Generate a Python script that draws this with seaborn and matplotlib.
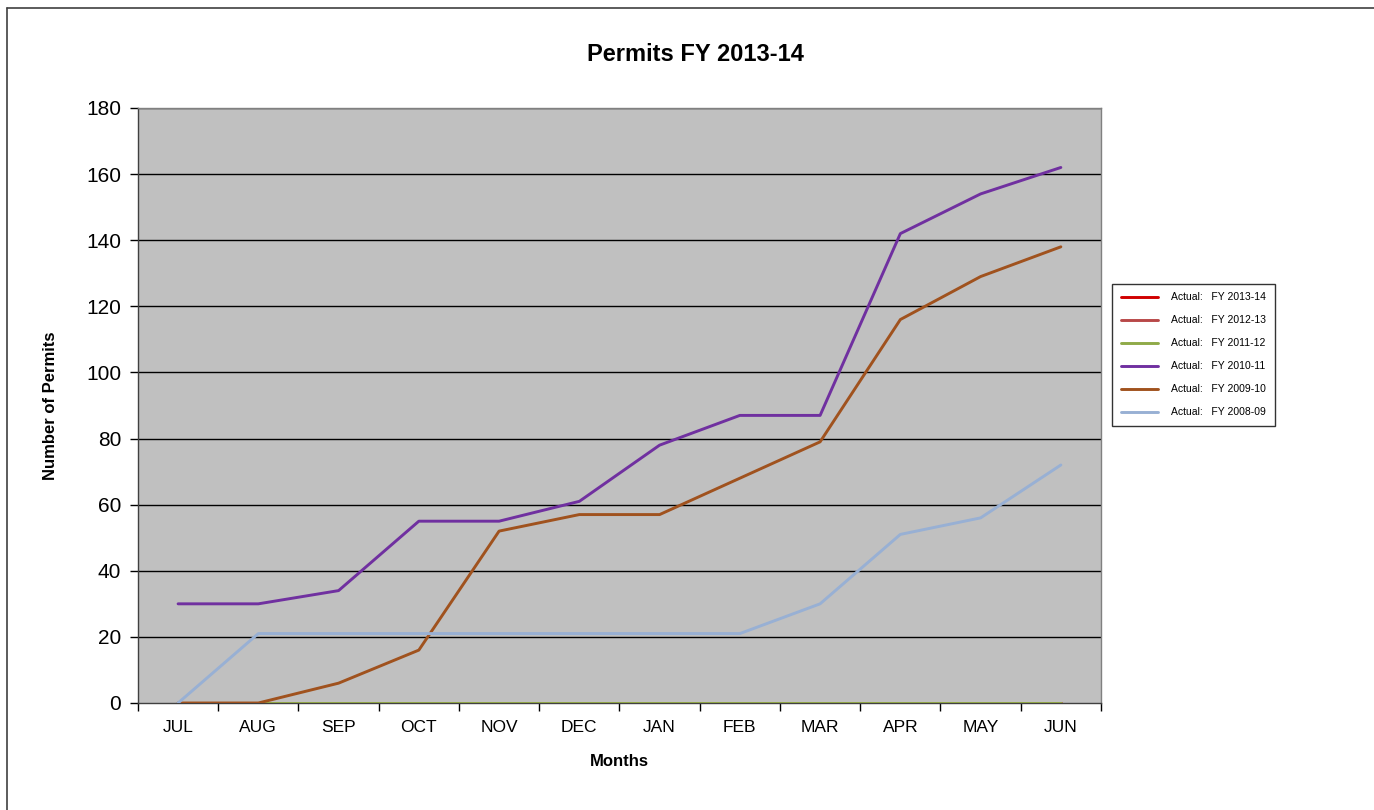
import numpy as np
import pandas as pd
import matplotlib
matplotlib.use("Agg")
import matplotlib.pyplot as plt
import seaborn as sns

MONTHS = ["JUL", "AUG", "SEP", "OCT", "NOV", "DEC", "JAN", "FEB", "MAR", "APR", "MAY", "JUN"]

SERIES = [
    "Actual:   FY 2013-14",
    "Actual:   FY 2012-13",
    "Actual:   FY 2011-12",
    "Actual:   FY 2010-11",
    "Actual:   FY 2009-10",
    "Actual:   FY 2008-09",
]

FY_2013_14 = [0, 0, 0, 0, 0, 0, 0, 0, 0, 0, 0, 0]
FY_2012_13 = [0, 0, 0, 0, 0, 0, 0, 0, 0, 0, 0, 0]
FY_2011_12 = [0, 0, 0, 0, 0, 0, 0, 0, 0, 0, 0, 0]
FY_2010_11 = [30, 30, 34, 55, 55, 61, 78, 87, 87, 142, 154, 162]
FY_2009_10 = [0, 0, 6, 16, 52, 57, 57, 68, 79, 116, 129, 138]
FY_2008_09 = [0, 21, 21, 21, 21, 21, 21, 21, 30, 51, 56, 72]

COLORS = ["#D00000", "#B84848", "#8FAA48", "#7030A0", "#A0521E", "#98B0D4"]

values = [FY_2013_14, FY_2012_13, FY_2011_12, FY_2010_11, FY_2009_10, FY_2008_09]
rows = []
for name, vals in zip(SERIES, values):
    for i, v in enumerate(vals):
        rows.append({"month": i, "permits": v, "series": name})
df = pd.DataFrame(rows)

sns.set_style("white")
plt.rcParams["font.family"] = ["Liberation Sans", "DejaVu Sans"]
plt.rcParams["text.color"] = "black"
plt.rcParams["axes.labelcolor"] = "black"
plt.rcParams["xtick.color"] = "black"
plt.rcParams["ytick.color"] = "black"

fig = plt.figure(figsize=(13.74, 8.10), dpi=100)
ax = fig.add_axes([0.1004, 0.1321, 0.7009, 0.7346])
ax.set_facecolor("#C0C0C0")

# horizontale rasterlijnen
for y in range(20, 181, 20):
    ax.axhline(y, color="black", lw=1.0, zorder=1)

sns.lineplot(
    data=df, x="month", y="permits", hue="series",
    hue_order=SERIES, palette=COLORS, lw=2.1, ax=ax, zorder=3,
    legend=True,
)

ax.set_xlim(-0.5, 11.5)
ax.set_ylim(0, 180)
ax.set_yticks(range(0, 181, 20))
ax.tick_params(axis="y", labelsize=15, direction="out", length=6, width=1, left=True, pad=6)
ax.set_xticks(range(12))
ax.set_xticklabels(MONTHS, fontsize=12.5)
ax.set_xticks(np.arange(-0.5, 12, 1), minor=True)
ax.tick_params(axis="x", which="major", length=0, pad=12)
ax.tick_params(axis="x", which="minor", direction="out", length=6, width=1, bottom=True)

for side in ["top", "right"]:
    ax.spines[side].set_color("#808080")
    ax.spines[side].set_linewidth(1)
for side in ["left", "bottom"]:
    ax.spines[side].set_color("#404040")
    ax.spines[side].set_linewidth(1)

ax.set_xlabel("Months", fontsize=12, fontweight="bold", labelpad=14)
ax.set_ylabel("Number of Permits", fontsize=12, fontweight="bold", labelpad=20)
fig.suptitle("Permits FY 2013-14", x=0.506, y=0.947, fontsize=17, fontweight="bold")

leg = ax.legend(
    loc="center left", bbox_to_anchor=(1.006, 0.585), fontsize=7.5,
    frameon=True, fancybox=False, edgecolor="black", handlelength=3.6,
    labelspacing=1.25, borderpad=0.85, handletextpad=1.2,
)
leg.get_frame().set_linewidth(1)

# buitenrand van het grafiekgebied (boven en links zichtbaar)
fig.add_artist(plt.Line2D([0.005, 1.0], [0.990, 0.990], color="#404040", lw=1.2, transform=fig.transFigure))
fig.add_artist(plt.Line2D([0.005, 0.005], [0.0, 0.990], color="#404040", lw=1.2, transform=fig.transFigure))

fig.savefig("out.png", dpi=100)
